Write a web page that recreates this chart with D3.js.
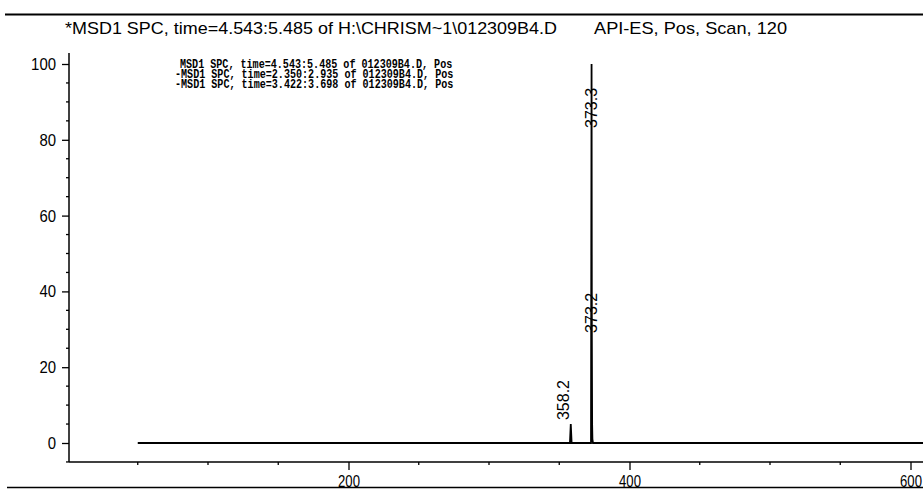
<!DOCTYPE html>
<html><head><meta charset="utf-8">
<script src="https://cdn.jsdelivr.net/npm/d3@7"></script>
<style>html,body{margin:0;padding:0;background:#fff;}svg{display:block;}</style>
</head><body>
<script>
const titleLeft = "*MSD1 SPC, time=4.543:5.485 of H:\\CHRISM~1\\012309B4.D";
const titleRight = "API-ES, Pos, Scan, 120";
const legendLines = [
  "MSD1 SPC, time=4.543:5.485 of 012309B4.D, Pos",
  "-MSD1 SPC, time=2.350:2.935 of 012309B4.D, Pos",
  "-MSD1 SPC, time=3.422:3.698 of 012309B4.D, Pos"
];
const mz =        [50, 357.6, 358.2, 358.8, 372.6, 373.0, 373.2, 373.4, 373.6, 374.0, 374.3, 374.7, 650];
const abundance = [0,  0,     5,     0,     0,     100,   28,    5,     1,     0,     0,     0,     0];
const peakLabels = [{mz:358.2, y:5, t:"358.2"}, {mz:373.2, y:28, t:"373.2"}, {mz:373.3, y:100, t:"373.3"}];
const yTicks = [0, 20, 40, 60, 80, 100];
const xTicks = [200, 400, 600];

const W = 923, H = 489;
const SANS = "'Liberation Sans',Arial,sans-serif";
const svg = d3.select("body").append("svg").attr("width", W).attr("height", H);
const x = d3.scaleLinear().domain([0, 600]).range([67.5, 910.5]);
const y = d3.scaleLinear().domain([0, 100]).range([443, 64]);
const axisX = 69, axisYbottom = 462, axisYtop = 53;

// frame lines
svg.append("line").attr("x1",5).attr("x2",W).attr("y1",14.5).attr("y2",14.5).attr("stroke","#000").attr("stroke-width",2);
svg.append("line").attr("x1",7).attr("x2",W).attr("y1",487.5).attr("y2",487.5).attr("stroke","#000").attr("stroke-width",1.5);

// title
svg.append("text").attr("x",65).attr("y",34).attr("font-family",SANS)
  .attr("font-size",17).attr("textLength",492).attr("lengthAdjust","spacingAndGlyphs").attr("fill","#000").text(titleLeft);
svg.append("text").attr("x",594).attr("y",34).attr("font-family",SANS)
  .attr("font-size",17).attr("textLength",193).attr("lengthAdjust","spacingAndGlyphs").attr("fill","#000").text(titleRight);

// y axis
const yAxis = d3.axisLeft(y).tickValues(yTicks).tickSize(7).tickPadding(6);
const gy = svg.append("g").attr("transform",`translate(${axisX},0)`).call(yAxis);
gy.select(".domain").remove();
gy.selectAll("text").attr("font-family",SANS).attr("font-size",17).attr("fill","#000")
  .attr("textLength", d => String(d).length*8.3).attr("lengthAdjust","spacingAndGlyphs");
gy.selectAll("line").attr("stroke","#000").attr("stroke-width",1.3);
const yMinor = d3.range(-5, 101, 5).filter(v => v % 20 !== 0);
svg.append("g").selectAll("line").data(yMinor).join("line")
  .attr("x1",axisX-3).attr("x2",axisX).attr("y1",d=>y(d)).attr("y2",d=>y(d)).attr("stroke","#000").attr("stroke-width",1.3);
svg.append("line").attr("x1",axisX).attr("x2",axisX).attr("y1",axisYtop).attr("y2",axisYbottom).attr("stroke","#000").attr("stroke-width",1.5);

// x axis
svg.append("defs").append("clipPath").attr("id","clipB").append("rect").attr("x",0).attr("y",0).attr("width",W).attr("height",487);
const xAxis = d3.axisBottom(x).tickValues(xTicks).tickSize(8).tickPadding(5).tickFormat(d3.format("d"));
const gx = svg.append("g").attr("transform",`translate(0,${axisYbottom})`).attr("clip-path","url(#clipB)").call(xAxis);
gx.select(".domain").remove();
gx.selectAll("text").attr("font-family",SANS).attr("font-size",17).attr("fill","#000")
  .attr("textLength", d => String(d).length*7.3).attr("lengthAdjust","spacingAndGlyphs");
gx.selectAll("line").attr("stroke","#000").attr("stroke-width",1.3);
const xMinor = d3.range(50, 651, 50).filter(v => v % 200 !== 0);
svg.append("g").selectAll("line").data(xMinor).join("line")
  .attr("x1",d=>x(d)).attr("x2",d=>x(d)).attr("y1",axisYbottom).attr("y2",axisYbottom+3).attr("stroke","#000").attr("stroke-width",1.3);
svg.append("line").attr("x1",axisX).attr("x2",W).attr("y1",axisYbottom).attr("y2",axisYbottom).attr("stroke","#000").attr("stroke-width",1.5);

// spectrum
const pts = mz.map((m,i)=>[m, abundance[i]]);
svg.append("path").datum(pts).attr("fill","none").attr("stroke","#000").attr("stroke-width",1.8)
  .attr("d", d3.line().x(d=>x(d[0])).y(d=>y(d[1])));

// legend
const lg = svg.append("g").attr("font-family","'Liberation Mono','DejaVu Sans Mono',monospace").attr("font-size",12.5).attr("font-weight","bold");
legendLines.forEach((t,i)=>{
  lg.append("text").attr("x", i===0?180:175).attr("y", 68+i*10).attr("textLength", t.length*6.05).attr("lengthAdjust","spacingAndGlyphs").text(t);
});

// peak labels (rotated)
peakLabels.forEach(p=>{
  const px = x(p.mz)+(p.mz<360?-2:5), py = Math.max(y(p.y)-4, 128);
  svg.append("text").attr("transform",`translate(${px},${py}) rotate(-90)`)
    .attr("font-family",SANS).attr("font-size",16).attr("fill","#000").text(p.t);
});
</script>
</body></html>
